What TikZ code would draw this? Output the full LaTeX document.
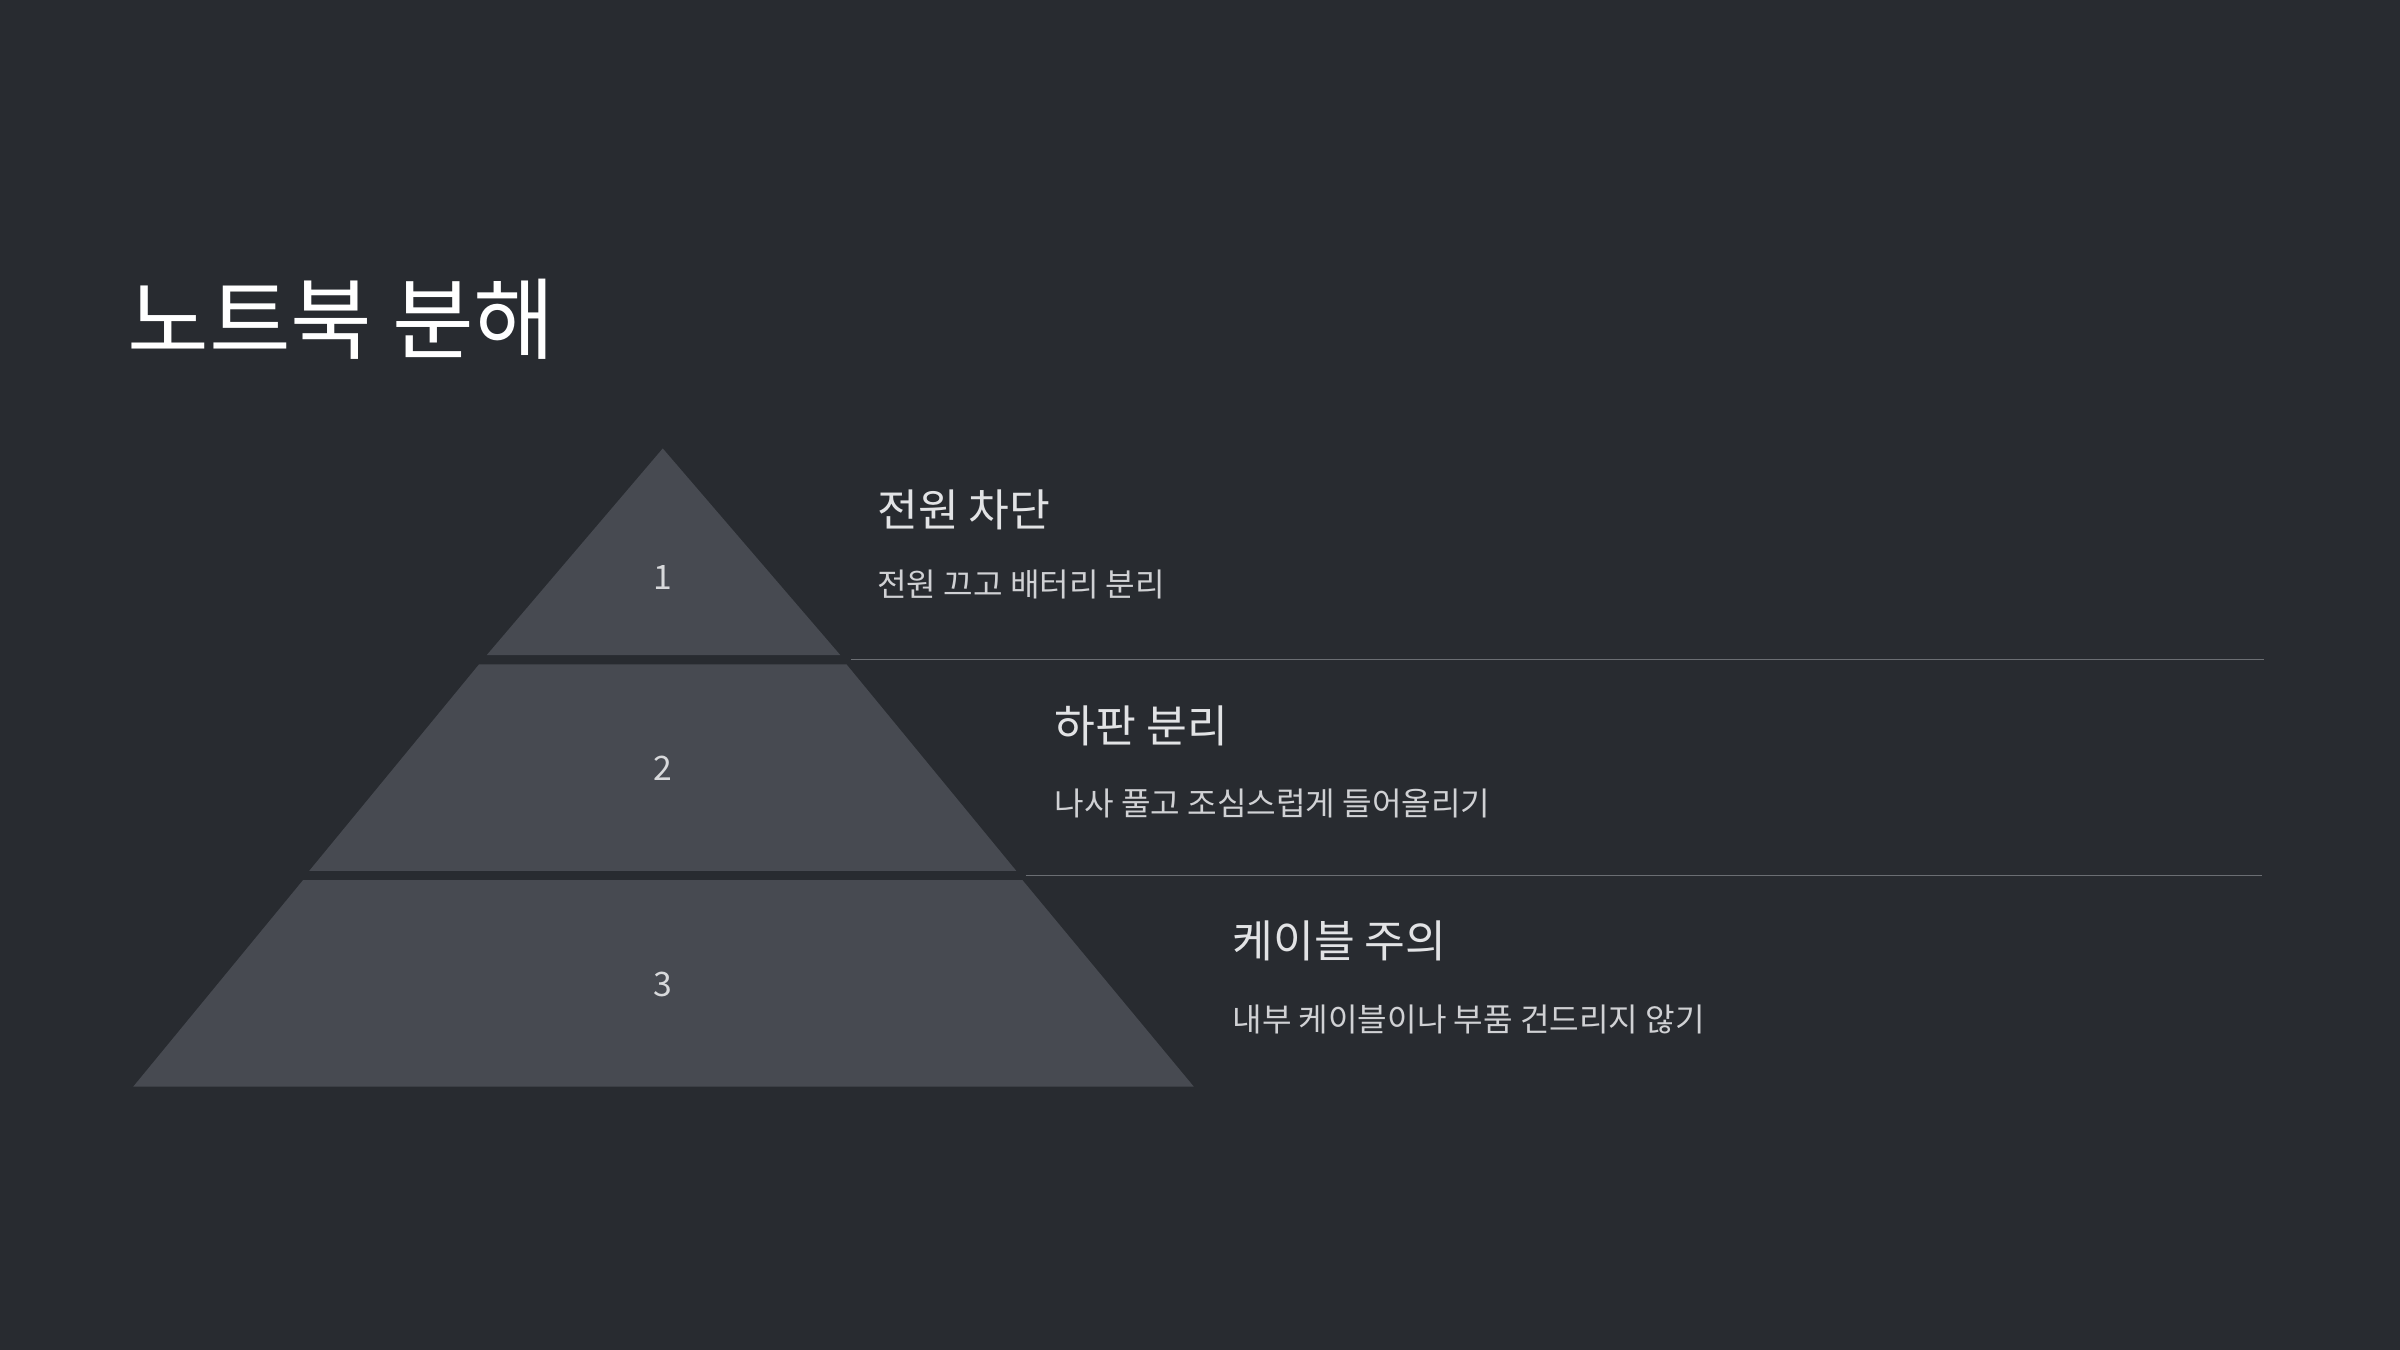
\documentclass[tikz,border=0pt]{standalone}
\usepackage{fontspec}
\setmainfont{Noto Sans CJK KR}
\begin{document}
\begin{tikzpicture}[x=1pt,y=-1pt,
  tier/.style={fill=tierc,draw=none},
  num/.style={text=numc,font=\fontsize{22}{26}\selectfont},
  head/.style={anchor=west,text=headc,font=\fontsize{29}{34}\selectfont,inner sep=0},
  sub/.style={anchor=west,text=subc,font=\fontsize{21}{25}\selectfont,inner sep=0},
  sep/.style={draw=linec,line width=0.9pt}]
\definecolor{bgc}{HTML}{282B30}
\definecolor{tierc}{HTML}{474A51}
\definecolor{numc}{HTML}{D8D9DB}
\definecolor{headc}{HTML}{E2E3E5}
\definecolor{subc}{HTML}{D0D1D4}
\definecolor{linec}{HTML}{6B6E73}
\fill[bgc] (0,0) rectangle (1568,882);
\useasboundingbox (0,0) rectangle (1568,882);
\node[anchor=base west,text=white,font=\fontsize{58}{66}\selectfont,inner sep=0] (title) at (83,230) {노트북 분해};
\fill[tier] (433,293) -- (549,428) -- (318,428) -- cycle;
\fill[tier] (313,434) -- (553,434) -- (664,569) -- (202,569) -- cycle;
\fill[tier] (198,575) -- (668,575) -- (780,710) -- (87,710) -- cycle;
\node[num] (n1) at (433,377) {1};
\node[num] (n2) at (433,502) {2};
\node[num] (n3) at (433,643) {3};
\coordinate (l1a) at (556,431); \coordinate (l1b) at (1479,431);
\coordinate (l2a) at (670,572); \coordinate (l2b) at (1478,572);
\draw[sep] (l1a) -- (l1b);
\draw[sep] (l2a) -- (l2b);
\node[head] (h1) at (573,333) {전원 차단};
\node[sub] (s1) at (573,382) {전원 끄고 배터리 분리};
\node[head] (h2) at (689,474) {하판 분리};
\node[sub] (s2) at (689,525) {나사 풀고 조심스럽게 들어올리기};
\node[head] (h3) at (805,615) {케이블 주의};
\node[sub] (s3) at (805,666) {내부 케이블이나 부품 건드리지 않기};
\end{tikzpicture}
\end{document}
